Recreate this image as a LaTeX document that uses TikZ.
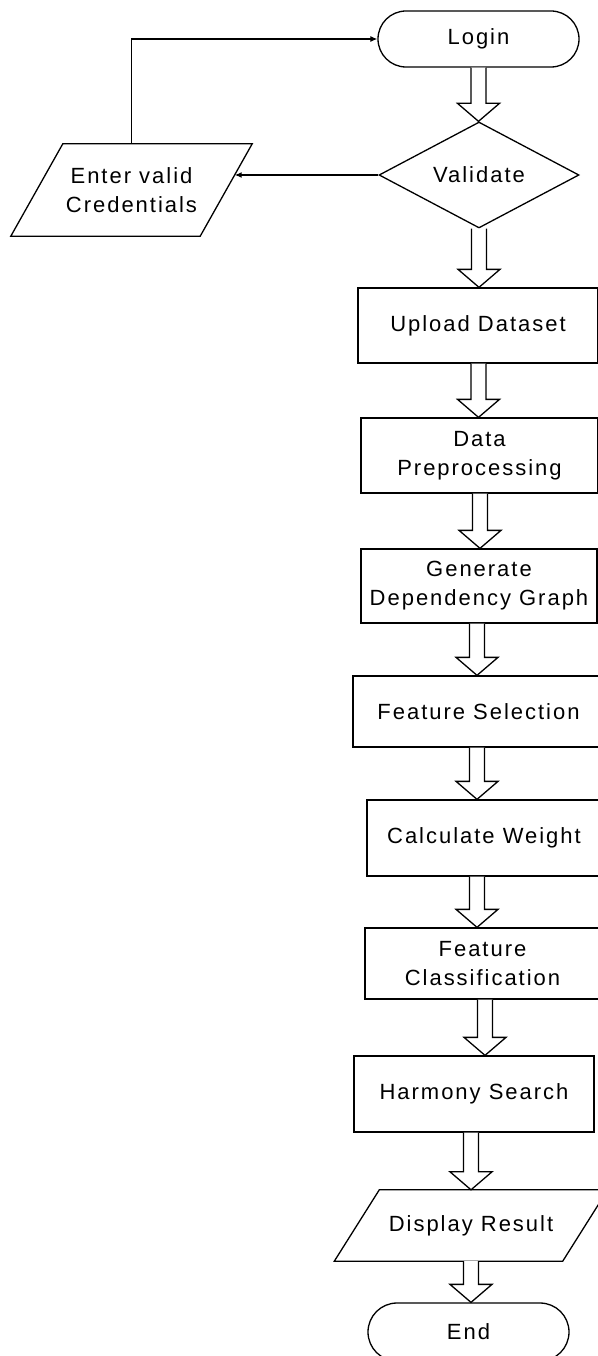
\documentclass[tikz,border=0pt]{standalone}
\usepackage{fontspec}
\setmainfont{Liberation Sans}[LetterSpace=9]
\usetikzlibrary{shapes.geometric,arrows.meta,calc}
\tikzset{
  every node/.style={font=\fontsize{22}{29}\selectfont, align=center, inner sep=0pt},
  box/.style={draw, rectangle, line width=1.3pt},
  term/.style={draw, rectangle, line width=1.3pt, minimum width=201pt},
  io/.style={rectangle},
  ioline/.style={line width=1.3pt, line join=miter},
  decision/.style={draw, diamond, aspect=2, line width=1.3pt},
  thinarrow/.style={line width=1.2pt, -{Latex[length=7pt,width=6pt]}},
  blockarrow/.style={line width=1.3pt, fill=white, line join=miter},
}
\newcommand{\blockarr}[3]{%
  \draw[blockarrow] let \p1=($(#1.south)+(#3,0)$), \p2=(#2.north) in
   (\x1-7.5pt,\y1) -- (\x1-7.5pt,\y2+18pt) -- (\x1-21pt,\y2+18pt) -- (\x1,\y2)
   -- (\x1+21pt,\y2+18pt) -- (\x1+7.5pt,\y2+18pt) -- (\x1+7.5pt,\y1);
}
% parallelogram outline around a node: #1 node name, #2 half of the slant offset
\newcommand{\paraoutline}[2]{%
  \draw[ioline] ([xshift=#2pt]#1.north west) -- ([xshift=#2pt]#1.north east)
    -- ([xshift=-#2pt]#1.south east) -- ([xshift=-#2pt]#1.south west) -- cycle;
}
\begin{document}
\begin{tikzpicture}[x=1pt,y=-1pt]
\useasboundingbox (0,0) rectangle (597,1356);
\node[term, minimum height=56pt, rounded corners=28pt] (login) at (478.5,39) {Login};
\node[decision, minimum width=200pt, minimum height=106pt] (val) at (479,175) {Validate};
\node[io, minimum width=189pt, minimum height=92pt] (evc) at (131.5,190) {Enter valid\\Credentials};
\node[box, minimum width=240pt, minimum height=75pt] (up) at (478,325.5) {Upload Dataset};
\node[box, minimum width=237pt, minimum height=75pt] (dp) at (479.5,455.5) {Data\\Preprocessing};
\node[box, minimum width=236pt, minimum height=74pt] (gdg) at (479,586) {Generate\\Dependency Graph};
\node[box, minimum width=251pt, minimum height=71pt] (fs) at (478.5,711.5) {Feature Selection};
\node[box, minimum width=234pt, minimum height=76pt] (cw) at (484,838) {Calculate Weight};
\node[box, minimum width=235pt, minimum height=71pt] (fc) at (482.5,963.5) {Feature\\Classification};
\node[box, minimum width=240pt, minimum height=76pt] (hs) at (474,1094) {Harmony Search};
\node[io, minimum width=228pt, minimum height=71pt] (dr) at (471,1225.5) {Display Result};
\node[term, minimum height=58pt, rounded corners=29pt] (end) at (468.5,1332) {End};

\paraoutline{evc}{26}
\paraoutline{dr}{22.5}

\blockarr{login}{val}{0}
\blockarr{val}{up}{0}
\blockarr{up}{dp}{0.5}
\blockarr{dp}{gdg}{0.5}
\blockarr{gdg}{fs}{-2}
\blockarr{fs}{cw}{-1.5}
\blockarr{cw}{fc}{-7}
\blockarr{fc}{hs}{2.5}
\blockarr{hs}{dr}{-3}
\blockarr{dr}{end}{0}

\draw[thinarrow] (val.west) -- ($(val.west -| evc.east)+(8.5,0)$);
\draw[thinarrow] (evc.north) |- (login.west);
\end{tikzpicture}
\end{document}
